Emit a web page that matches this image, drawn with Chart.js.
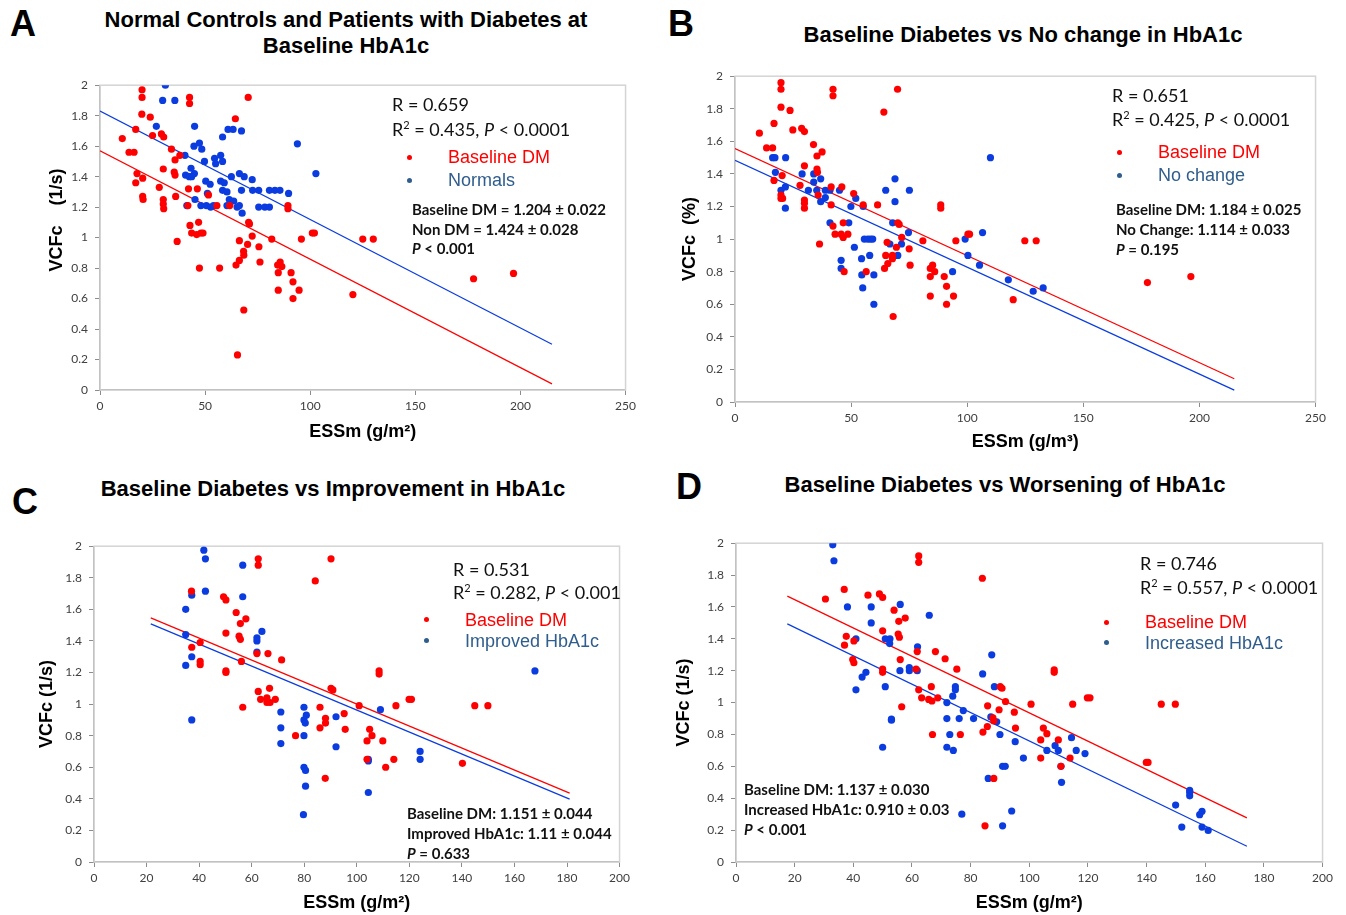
<!DOCTYPE html>
<html>
<head>
<meta charset="utf-8">
<script src="https://cdn.jsdelivr.net/npm/chart.js@4.4.0/dist/chart.umd.min.js"></script>
<style>
body { margin: 0; background: #fff; width: 1346px; height: 915px; position: relative; overflow: hidden; }
canvas { position: absolute; }
.t { position: absolute; white-space: nowrap; color: #111; }
.letter { font: bold 36px "Liberation Sans", Arial, sans-serif; line-height: 36px; color: #000; }
.title { font: bold 22px "Liberation Sans", Arial, sans-serif; line-height: 26px; text-align: center; width: 620px; color: #000; }
.stat { font: 18px Lato, sans-serif; line-height: 20px; }
.leg { font: 18px "Liberation Sans", Arial, sans-serif; line-height: 20px; }
.bold { font: bold 15px Lato, sans-serif; line-height: 20px; }
.dot { position: absolute; width: 5px; height: 5px; border-radius: 50%; margin: -2.5px 0 0 -2.5px; }
sup { font-size: 11px; line-height: 0; vertical-align: 7px; }
</style>
</head>
<body>
<script>
// ---- data (ESSm, VCFc) ----
var aDM = [[20,1.97],[20,1.92],[19.9,1.81],[23.9,1.79],[17,1.71],[10.6,1.65],[25,1.67],[29.2,1.68],[30.3,1.66],[34,1.58],
  [13.8,1.56],[16.2,1.56],[35.7,1.51],[38,1.54],[30.1,1.45],[35.3,1.43],[35.7,1.41],[17.6,1.42],[20.3,1.39],[17,1.36],
  [28.2,1.33],[42.1,1.32],[46.3,1.32],[51.6,1.28],[20.3,1.27],[20.5,1.25],[30.1,1.25],[30.1,1.22],[30.3,1.19],[36,1.27],
  [41.8,1.21],[55.6,1.21],[61.7,1.21],[42.8,1.08],[46.9,1.10],[43.6,1.03],[46,1.02],[48,1.03],[49,1.03],[36.7,0.975],
  [70.7,1.10],[71.1,1.09],[66.3,0.98],[72.4,1.01],[70.2,0.955],[68.3,0.91],[68.4,0.885],[66.3,0.85],[64.7,0.82],[75.6,0.94],
  [76.1,0.84],[81.7,0.99],[47.3,0.80],[56.9,0.80],[85.7,0.84],[84.5,0.82],[86.5,0.81],[84.8,0.77],[90.9,0.77],[91.8,0.71],
  [94.7,0.655],[84.8,0.655],[91.8,0.60],[89.4,1.21],[89.4,1.19],[95.8,0.99],[101,1.03],[102,1.03],[68.4,0.525],[65.4,0.23],
  [70.5,1.92],[64.4,1.78],[42.6,1.92],[42.6,1.88],[125,0.99],[130,0.99],[177.7,0.73],[196.7,0.765],[120.3,0.626]];
var aNormals = [[31.1,2.0],[29.8,1.90],[35.6,1.90],[26.8,1.73],[45,1.73],[44.7,1.60],[47.3,1.62],[48.4,1.58],[40.4,1.54],[43.3,1.455],
  [40.7,1.41],[42.5,1.40],[44.9,1.42],[43.6,1.40],[49.7,1.50],[54.5,1.52],[55,1.485],[57.4,1.54],[58.3,1.50],[58.3,1.66],
  [60.9,1.71],[63.3,1.71],[67.3,1.70],[50.3,1.37],[52.4,1.35],[57.4,1.37],[59.1,1.36],[62.5,1.40],[66.3,1.42],[68.6,1.40],
  [72.4,1.38],[58.3,1.31],[60.4,1.30],[67.3,1.31],[51.1,1.29],[45.2,1.25],[41.3,1.21],[48,1.21],[50.6,1.21],[52.6,1.20],
  [54,1.21],[60.4,1.21],[61.5,1.25],[63.6,1.24],[65.2,1.20],[66.3,1.21],[67.6,1.16],[72.6,1.31],[75.5,1.31],[80.6,1.31],
  [83.2,1.31],[85.6,1.31],[89.7,1.29],[75.5,1.20],[78.4,1.20],[80.6,1.20],[93.9,1.615],[102.7,1.42]];
var aFitDM = [[0,1.57],[215,0.04]];
var aFitNormals = [[0,1.83],[215,0.30]];

var bDM = [[19.8,1.96],[19.8,1.92],[19.8,1.81],[23.7,1.79],[16.8,1.71],[10.5,1.65],[24.9,1.67],[28.7,1.68],[29.9,1.66],[33.8,1.58],
  [13.6,1.56],[16.2,1.56],[35.3,1.51],[37.5,1.535],[29.9,1.45],[35.3,1.43],[35.5,1.41],[20.3,1.39],[16.8,1.36],[28,1.33],
  [41.4,1.32],[46,1.32],[51.1,1.28],[19.8,1.27],[19.8,1.25],[20.5,1.25],[29.9,1.24],[29.9,1.22],[29.9,1.19],[35.8,1.27],
  [41.4,1.21],[55.2,1.21],[61.4,1.21],[42.2,1.08],[46.6,1.10],[43.1,1.03],[45.7,1.03],[46.6,1.01],[48.6,1.03],[36.4,0.97],
  [70.1,1.10],[70.7,1.09],[64.1,1.78],[42.2,1.92],[42.2,1.88],[70,1.92],[68.1,0.525],[71.8,1.01],[69.5,0.95],[65.5,0.98],
  [75,0.94],[75.4,0.84],[64.9,0.90],[67.8,0.90],[67.8,0.88],[65.8,0.85],[64.4,0.82],[80.9,0.99],[47,0.80],[56.5,0.80],
  [85.1,0.84],[84.1,0.82],[86,0.80],[84.1,0.77],[90.1,0.77],[91.1,0.71],[94.1,0.65],[84.1,0.65],[91.1,0.60],[88.6,1.21],
  [88.6,1.19],[95.1,0.99],[100.3,1.03],[101,1.03],[124.8,0.99],[129.7,0.99],[177.6,0.733],[196.3,0.77],[119.8,0.628]];
var bNoChange = [[16.2,1.50],[17.2,1.50],[21.8,1.50],[17.4,1.41],[19.8,1.30],[21.7,1.32],[21.7,1.19],[28.9,1.40],[33.9,1.40],[33.9,1.35],
  [31.6,1.30],[35.2,1.30],[36.9,1.37],[36.9,1.23],[38.9,1.255],[38.9,1.30],[40.9,1.30],[45,1.30],[40.9,1.10],[49,1.10],
  [49.9,1.20],[52,1.25],[55.2,1.20],[51.4,0.95],[45.7,0.87],[45.7,0.82],[54.5,0.88],[54.6,0.78],[55,0.70],[58,0.90],
  [59.8,0.78],[59.8,0.60],[55.7,1.00],[57.2,1.00],[58.3,1.00],[59.3,1.00],[64.9,1.30],[68.9,1.37],[68.9,1.23],[67.9,1.10],
  [75.1,1.30],[74.7,1.04],[71.7,0.97],[66.7,0.97],[70.1,0.90],[93.7,0.80],[99.1,1.00],[100.3,0.90],[106.6,1.04],[105.3,0.84],
  [110,1.50],[117.7,0.75],[128.4,0.68],[132.7,0.70]];
var bFitDM = [[0,1.556],[215,0.143]];
var bFitNoChange = [[0,1.483],[215,0.073]];

var cDM = [[37.1,1.715],[40.4,1.39],[37.2,1.36],[40.4,1.27],[40.4,1.25],[49.3,1.68],[50.2,1.66],[50.2,1.45],[50.2,1.21],[50.2,1.20],
  [54.1,1.58],[55.7,1.51],[57.8,1.54],[55.2,1.43],[55.7,1.41],[56.1,1.27],[56.6,0.98],[62.5,1.92],[62.5,1.88],[62,1.32],
  [66.2,1.32],[71.4,1.28],[62.5,1.08],[63.4,1.03],[65.8,1.04],[66.8,1.10],[65.8,1.01],[67,1.01],[69,1.03],[76.7,0.80],
  [86,0.98],[86,0.85],[88.1,0.91],[88.1,0.88],[88,0.53],[84.2,1.78],[90.2,1.92],[90.2,1.10],[90.9,1.09],[95.2,0.94],
  [95.6,0.84],[108.5,1.21],[108.5,1.19],[100.9,0.99],[104.9,0.84],[105.8,0.80],[103.9,0.767],[103.9,0.65],[109.9,0.767],[111,0.60],
  [114.1,0.65],[114.9,0.99],[119.9,1.03],[120.8,1.03],[140.2,0.625],[144.9,0.99],[149.9,0.99]];
var cImproved = [[41.8,1.975],[42.4,1.92],[42.4,1.715],[37.2,1.69],[34.9,1.60],[34.9,1.44],[37.2,1.30],[34.9,1.245],[37.2,0.90],[56.6,1.88],
  [56.6,1.68],[62,1.42],[62,1.40],[63.9,1.46],[62,1.33],[71.1,0.95],[71.1,0.85],[71.1,0.75],[79.9,0.98],[79.9,0.90],
  [80.8,0.93],[80.4,0.88],[79.9,0.80],[79.9,0.60],[80.5,0.58],[80.5,0.48],[79.7,0.30],[92.1,0.92],[92.1,0.73],[109,0.965],
  [104.4,0.65],[104.4,0.64],[104.4,0.44],[124.1,0.70],[124.1,0.65],[167.8,1.21]];
var cFitDM = [[21.6,1.546],[181,0.436]];
var cFitImproved = [[21.6,1.508],[181,0.398]];

var dDM = [[30.5,1.65],[36.9,1.71],[37,1.36],[37.6,1.416],[40.2,1.387],[39.8,1.27],[40.2,1.25],[45,1.674],[48.9,1.682],[50,1.66],
  [50,1.45],[50,1.21],[50,1.19],[53.9,1.58],[55.5,1.51],[57.7,1.53],[55.3,1.43],[55.7,1.41],[56,1.27],[56.5,0.974],
  [62.3,1.92],[62.3,1.88],[61.8,1.32],[68,1.32],[71.3,1.275],[61.4,1.21],[62.3,1.08],[63.3,1.03],[66.6,1.10],[65.7,1.02],
  [66.8,1.01],[68.8,1.03],[67,0.80],[76.5,0.80],[75.3,1.21],[84,1.78],[85.8,0.98],[89.7,0.955],[85.7,0.85],[84.2,0.815],
  [87.6,0.904],[87.9,0.885],[87.9,0.524],[84.9,0.227],[90.1,1.10],[90.7,1.09],[91.9,1.007],[94.9,0.94],[95.3,0.84],[100.6,0.99],
  [104.8,0.84],[106,0.805],[103.9,0.766],[103.9,0.652],[109.9,0.766],[110.8,0.60],[113.9,0.652],[114.8,0.99],[119.8,1.03],[120.7,1.03],
  [108.5,1.205],[108.5,1.19],[139.9,0.625],[140.5,0.625],[145,0.99],[149.8,0.99]];
var dIncreased = [[33,1.99],[33.4,1.89],[38,1.60],[46.1,1.60],[46.1,1.50],[56,1.616],[65.9,1.548],[40.9,1.40],[50.9,1.40],[52.5,1.40],
  [52.4,1.37],[61.9,1.35],[40.9,1.08],[43,1.16],[44.3,1.19],[50.9,1.10],[53,0.896],[53,0.89],[50,0.72],[55.9,1.20],
  [59.1,1.22],[59.1,1.20],[61.8,1.20],[71.9,1.00],[71.9,0.90],[72.9,0.80],[71.9,0.72],[74.1,0.70],[73.9,1.04],[74.8,1.10],
  [74.8,1.08],[77.5,0.95],[76.1,0.90],[81,0.90],[84.1,1.18],[87.2,1.30],[88.1,1.10],[86.9,0.91],[88.9,0.88],[90,0.80],
  [86,0.524],[90.9,0.60],[91.8,0.60],[95.2,0.755],[98,0.652],[77,0.30],[90.9,0.227],[94,0.32],[106,0.70],[108.8,0.73],
  [109.9,0.70],[110.8,0.60],[111,0.50],[114.4,0.78],[116,0.70],[119,0.68],[149.9,0.357],[152,0.219],[154.7,0.45],[154.7,0.436],
  [154.7,0.415],[158.1,0.297],[158.9,0.318],[158.9,0.219],[161,0.198]];
var dFitDM = [[17.5,1.668],[174.2,0.277]];
var dFitIncreased = [[17.5,1.494],[174.2,0.099]];

var RED = '#ff0000';
var BLUE = '#0a3ce0';
var LEGEND_BLUE = '#2f5d8c';

function toPoints(arr) {
    return arr.map(function (p) { return {x: p[0], y: p[1]}; });
}

// light grey frame round the plot area
var framePlugin = {
    id: 'frame',
    beforeDatasetsDraw: function (chart) {
        var a = chart.chartArea, ctx = chart.ctx;
        ctx.save();
        ctx.strokeStyle = '#d4d4d4';
        ctx.lineWidth = 1.5;
        ctx.strokeRect(a.left, a.top, a.right - a.left, a.bottom - a.top);
        ctx.restore();
    }
};

function makePanel(o) {
    var padL = 70, padT = 10, padR = 14, padB = 60;
    var w = o.area.r - o.area.l + padL + padR;
    var h = o.area.b - o.area.t + padT + padB;
    var c = document.createElement('canvas');
    c.width = w; c.height = h;
    c.style.left = (o.area.l - padL) + 'px';
    c.style.top = (o.area.t - padT) + 'px';
    c.style.width = w + 'px';
    c.style.height = h + 'px';
    document.body.appendChild(c);

    var titleFont = {family: '"Liberation Sans", Arial, sans-serif', size: 18, weight: 'bold', lineHeight: 1.2};
    var lh = 18 * 1.2;
    var tickFont = {family: 'Lato, sans-serif', size: 12};
    var axisGrid = {drawOnChartArea: false, drawTicks: true, tickLength: 5, color: '#8c8c8c', lineWidth: 1};

    new Chart(c, {
        type: 'scatter',
        data: {
            datasets: [
                {data: toPoints(o.dm), backgroundColor: RED, borderWidth: 0, pointRadius: 3.6},
                {data: toPoints(o.other), backgroundColor: BLUE, borderWidth: 0, pointRadius: 3.6},
                {type: 'line', data: toPoints(o.fitDm), borderColor: RED, borderWidth: 1.2, pointRadius: 0, fill: false},
                {type: 'line', data: toPoints(o.fitOther), borderColor: BLUE, borderWidth: 1.2, pointRadius: 0, fill: false}
            ]
        },
        options: {
            responsive: false,
            animation: false,
            layout: {padding: {left: 0, top: padT, right: padR, bottom: 0}},
            plugins: {legend: {display: false}, tooltip: {enabled: false}},
            scales: {
                x: {
                    type: 'linear', min: 0, max: o.xMax,
                    afterFit: function (s) { s.height = padB; },
                    grid: axisGrid,
                    border: {color: '#8c8c8c', width: 1.3},
                    ticks: {stepSize: o.xStep, font: tickFont, color: '#404040', padding: 4, maxRotation: 0},
                    title: {display: true, text: o.xTitle, font: titleFont, color: '#000',
                        padding: {top: 0, bottom: padB - (o.xTitleY - o.area.b) - lh / 2}}
                },
                y: {
                    min: 0, max: 2,
                    afterFit: function (s) { s.width = padL; },
                    grid: axisGrid,
                    border: {color: '#8c8c8c', width: 1.3},
                    ticks: {stepSize: 0.2, font: tickFont, color: '#404040', padding: 7,
                        callback: function (v) { return String(Math.round(v * 10) / 10); }},
                    title: {display: true, text: o.yTitle, font: titleFont, color: '#000',
                        padding: {top: o.yTitleX - (o.area.l - padL) - lh / 2, bottom: 0}}
                }
            }
        },
        plugins: [framePlugin]
    });
}

makePanel({area: {l: 100, t: 81, r: 626, b: 390}, xMax: 250, xStep: 50,
    yTitle: '       VCFc    (1/s)', yTitleX: 57, xTitle: 'ESSm (g/m\u00b2)', xTitleY: 432,
    dm: aDM, other: aNormals, fitDm: aFitDM, fitOther: aFitNormals});
makePanel({area: {l: 735, t: 72, r: 1316, b: 402}, xMax: 250, xStep: 50,
    yTitle: 'VCFc  (%)', yTitleX: 690, xTitle: 'ESSm (g/m\u00b3)', xTitleY: 442,
    dm: bDM, other: bNoChange, fitDm: bFitDM, fitOther: bFitNoChange});
makePanel({area: {l: 94, t: 542, r: 620, b: 862}, xMax: 200, xStep: 20,
    yTitle: 'VCFc (1/s)', yTitleX: 47, xTitle: 'ESSm (g/m\u00b2)', xTitleY: 903,
    dm: cDM, other: cImproved, fitDm: cFitDM, fitOther: cFitImproved});
makePanel({area: {l: 736, t: 539, r: 1323, b: 862}, xMax: 200, xStep: 20,
    yTitle: 'VCFc (1/s)', yTitleX: 684, xTitle: 'ESSm (g/m\u00b2)', xTitleY: 903,
    dm: dDM, other: dIncreased, fitDm: dFitDM, fitOther: dFitIncreased});

// ---- text ----
function txt(cls, left, top, html, color) {
    var d = document.createElement('div');
    d.className = 't ' + cls;
    d.style.left = left + 'px';
    d.style.top = top + 'px';
    if (color) d.style.color = color;
    d.innerHTML = html;
    document.body.appendChild(d);
}
function dot(x, y, color) {
    var d = document.createElement('div');
    d.className = 'dot';
    d.style.left = x + 'px';
    d.style.top = y + 'px';
    d.style.background = color;
    document.body.appendChild(d);
}

txt('letter', 10, 6, 'A');
txt('letter', 668, 6, 'B');
txt('letter', 12, 484, 'C');
txt('letter', 676, 469, 'D');

txt('title', 36, 7, 'Normal Controls and Patients with Diabetes at<br>Baseline HbA1c');
txt('title', 713, 22, 'Baseline Diabetes vs No change in HbA1c');
txt('title', 23, 476, 'Baseline Diabetes vs Improvement in HbA1c');
txt('title', 695, 472, 'Baseline Diabetes vs Worsening of HbA1c');

// panel A
txt('stat', 392, 94, 'R = 0.659');
txt('stat', 392, 119, 'R<sup>2</sup> = 0.435, <i>P</i> &lt; 0.0001');
dot(409, 157, RED); txt('leg', 448, 147, 'Baseline DM', RED);
dot(409, 180, LEGEND_BLUE); txt('leg', 448, 170, 'Normals', LEGEND_BLUE);
txt('bold', 412, 199, 'Baseline DM = 1.204 \u00b1 0.022');
txt('bold', 412, 219, 'Non DM = 1.424 \u00b1 0.028');
txt('bold', 412, 238, '<i>P</i> &lt; 0.001');

// panel B
txt('stat', 1112, 85, 'R = 0.651');
txt('stat', 1112, 109, 'R<sup>2</sup> = 0.425, <i>P</i> &lt; 0.0001');
dot(1119, 152, RED); txt('leg', 1158, 142, 'Baseline DM', RED);
dot(1119, 175, LEGEND_BLUE); txt('leg', 1158, 165, 'No change', LEGEND_BLUE);
txt('bold', 1116, 199, 'Baseline DM: 1.184 \u00b1 0.025');
txt('bold', 1116, 219, 'No Change: 1.114 \u00b1 0.033');
txt('bold', 1116, 239, '<i>P</i> = 0.195');

// panel C
txt('stat', 453, 559, 'R = 0.531');
txt('stat', 453, 582, 'R<sup>2</sup> = 0.282, <i>P</i> &lt; 0.001');
dot(426, 619, RED); txt('leg', 465, 610, 'Baseline DM', RED);
dot(426, 640, LEGEND_BLUE); txt('leg', 465, 631, 'Improved HbA1c', LEGEND_BLUE);
txt('bold', 407, 803, 'Baseline DM: 1.151 \u00b1 0.044');
txt('bold', 407, 823, 'Improved HbA1c: 1.11 \u00b1 0.044');
txt('bold', 407, 843, '<i>P</i> = 0.633');

// panel D
txt('stat', 1140, 553, 'R = 0.746');
txt('stat', 1140, 577, 'R<sup>2</sup> = 0.557, <i>P</i> &lt; 0.0001');
dot(1106, 622, RED); txt('leg', 1145, 612, 'Baseline DM', RED);
dot(1106, 642, LEGEND_BLUE); txt('leg', 1145, 633, 'Increased HbA1c', LEGEND_BLUE);
txt('bold', 744, 779, 'Baseline DM: 1.137 \u00b1 0.030');
txt('bold', 744, 799, 'Increased HbA1c: 0.910 \u00b1 0.03');
txt('bold', 744, 819, '<i>P</i> &lt; 0.001');
</script>
</body>
</html>
